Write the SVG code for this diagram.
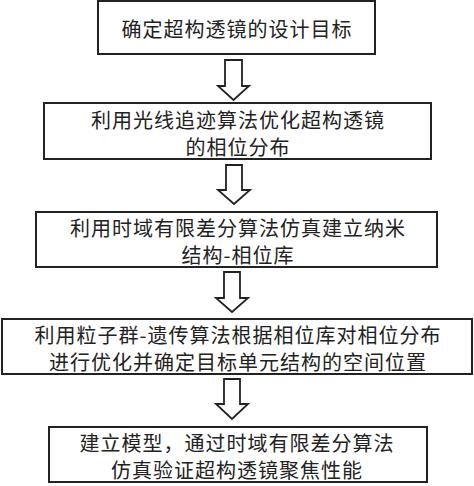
<svg xmlns="http://www.w3.org/2000/svg" width="474" height="486" viewBox="0 0 474 486">
<style>
.box{fill:#fff;stroke:#222;stroke-width:2}
.arr{fill:#fff;stroke:#222;stroke-width:1.8;stroke-linejoin:miter}
text{font-family:"Noto Sans CJK SC","Noto Sans",sans-serif;font-size:20px;fill:#222;text-anchor:middle;letter-spacing:1px}
</style>
<rect width="474" height="486" fill="#fff"/>
<g id="connectors">
<path class="arr" d="M225,60 H242 V86 H249 L233.5,100 L218,86 H225 Z"/>
<path class="arr" d="M226,165 H242 V190 H250 L234,204 L218,190 H226 Z"/>
<path class="arr" d="M224,272 H240 V298 H248 L232,312 L216,298 H224 Z"/>
<path class="arr" d="M224,379 H240 V404 H248 L232,419 L216,404 H224 Z"/>
</g>
<g id="n1">
<rect class="box" x="98" y="1" width="277" height="53"/>
<text x="237" y="37">确定超构透镜的设计目标</text>
</g>
<g id="n2">
<rect class="box" x="44" y="103" width="387" height="56"/>
<text x="238" y="127.5">利用光线追迹算法优化超构透镜</text>
<text x="238" y="154.5">的相位分布</text>
</g>
<g id="n3">
<rect class="box" x="36" y="212" width="401" height="55"/>
<text x="238" y="235.5">利用时域有限差分算法仿真建立纳米</text>
<text x="238" y="262.5">结构-相位库</text>
</g>
<g id="n4">
<rect class="box" x="2" y="319" width="470" height="55"/>
<text x="238" y="343">利用粒子群-遗传算法根据相位库对相位分布</text>
<text x="238" y="370">进行优化并确定目标单元结构的空间位置</text>
</g>
<g id="n5">
<rect class="box" x="49" y="427" width="378" height="55"/>
<text x="237" y="451">建立模型，通过时域有限差分算法</text>
<text x="237" y="477.5">仿真验证超构透镜聚焦性能</text>
</g>
</svg>
